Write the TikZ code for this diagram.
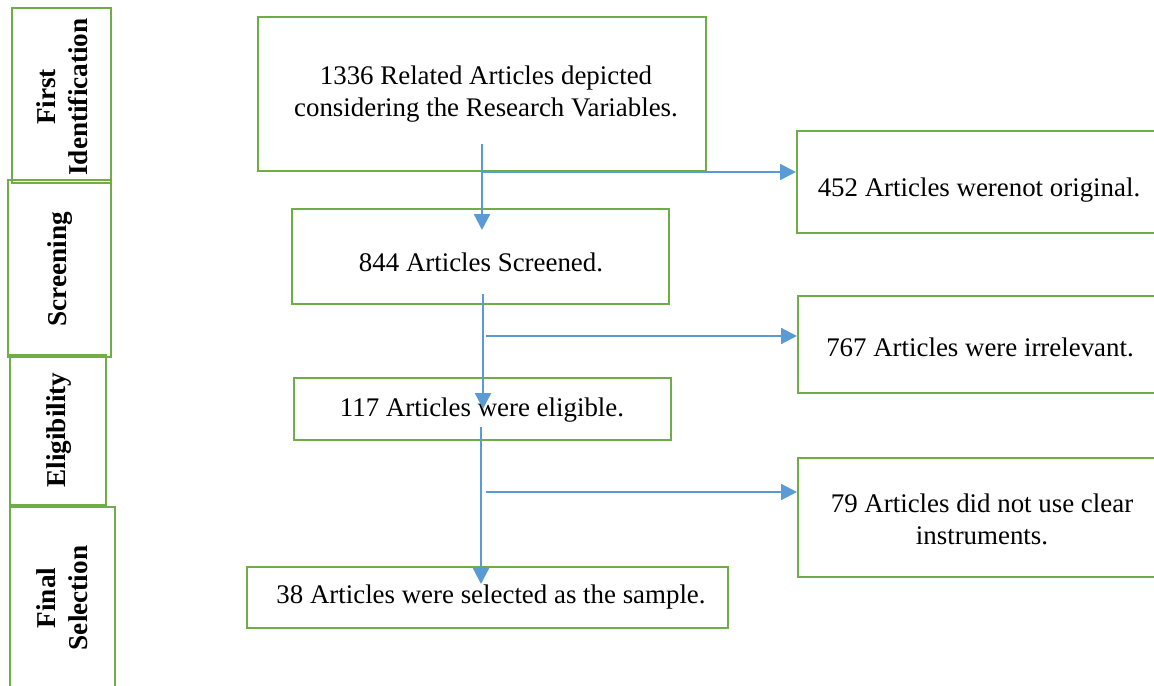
\documentclass[tikz,border=0pt]{standalone}
\usepackage{fontspec}
\setmainfont{Liberation Serif}
\usetikzlibrary{fit,arrows.meta}
\definecolor{gboxc}{HTML}{70AD47}
\definecolor{arrc}{HTML}{5B9BD5}
\tikzset{
  gbox/.style={draw=gboxc, line width=1.2pt, inner sep=0pt},
  btext/.style={align=center, inner sep=0pt, font=\fontsize{15.3}{18.2}\selectfont},
  stagetext/.style={rotate=90, align=center, inner sep=0pt, font=\fontsize{15.5}{18.2}\selectfont\bfseries},
  flow/.style={draw=arrc, line width=1.3pt, -{Triangle[length=9pt,width=9pt]}}
}
\begin{document}
\begin{tikzpicture}[x=0.02cm, y=-0.02cm]
\useasboundingbox (0,0) rectangle (1154,686);
\clip (0,0) rectangle (1154,686);
% stage boxes
\node[gbox, fit={(12,8) (111,183)}] (s1) {};
\node[stagetext] (s1t) at (62,97) {First\\Identification};
\node[gbox, fit={(8,180) (111,357)}] (s2) {};
\node[stagetext] (s2t) at (60,269) {Screening};
\node[gbox, fit={(10,355) (106,505)}] (s3) {};
\node[stagetext] (s3t) at (59,430) {Eligibility};
\node[gbox, fit={(10,507) (115,700)}] (s4) {};
\node[stagetext] (s4t) at (62,598) {Final\\Selection};
% main boxes
\node[gbox, fit={(258,17) (706,171)}] (b1) {};
\node[btext] (b1t) at (486,94) {1336 Related Articles depicted\\considering the Research Variables.};
\node[gbox, fit={(292,209) (669,304)}] (b2) {};
\node[btext] (b2t) at (481,262) {844 Articles Screened.};
\node[gbox, fit={(294,378) (671,440)}] (b3) {};
\node[btext] (b3t) at (482,410) {117 Articles were eligible.};
\node[gbox, fit={(247,567) (728,628)}] (b4) {};
\node[btext] (b4t) at (491,597) {38 Articles were selected as the sample.};
% right boxes
\node[gbox, fit={(797,131) (1162,233)}] (r1) {};
\node[btext] (r1t) at (979,190) {452 Articles werenot original.};
\node[gbox, fit={(798,296) (1162,393)}] (r2) {};
\node[btext] (r2t) at (980,347) {767 Articles were irrelevant.};
\node[gbox, fit={(798,458) (1162,577)}] (r3) {};
\node[btext] (r3t) at (982,519) {79 Articles did not use clear\\instruments.};
% connectors
\coordinate (v1s) at (482,144);
\coordinate (v1e) at (482,230);
\coordinate (h1s) at (482,172);
\coordinate (v2s) at (483,294);
\coordinate (v2e) at (483,409);
\coordinate (h2s) at (486,336);
\coordinate (v3s) at (481,427);
\coordinate (v3e) at (481,584);
\coordinate (h3s) at (486,492);
\draw[flow] (v1s) -- (v1e);
\draw[flow] (h1s) -- (h1s -| r1.west);
\draw[flow] (v2s) -- (v2e);
\draw[flow] (h2s) -- (h2s -| r2.west);
\draw[flow] (v3s) -- (v3e);
\draw[flow] (h3s) -- (h3s -| r3.west);
\end{tikzpicture}
\end{document}
